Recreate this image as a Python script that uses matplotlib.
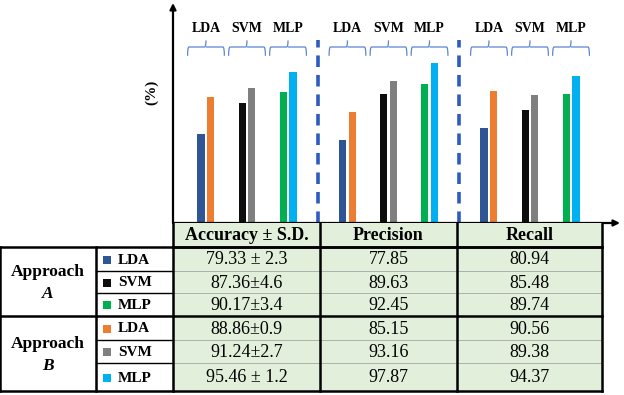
import matplotlib
matplotlib.use("Agg")
import matplotlib.pyplot as plt
from matplotlib.patches import Rectangle
from matplotlib.path import Path
from matplotlib.patches import PathPatch
import matplotlib.transforms as mtransforms

# ---------------- data ----------------
metrics = ["Accuracy \u00b1 S.D.", "Precision", "Recall"]
methods = ["LDA", "SVM", "MLP"]
approaches = ["A", "B"]
# values [method][metric]
approach_a_vals = [[79.33, 77.85, 80.94],
                   [87.36, 89.63, 85.48],
                   [90.17, 92.45, 89.74]]
approach_b_vals = [[88.86, 85.15, 90.56],
                   [91.24, 93.16, 89.38],
                   [95.46, 97.87, 94.37]]
approach_a_sd = ["2.3", "4.6", "3.4"]
approach_b_sd = ["0.9", "2.7", "1.2"]
approach_a_colors = ["#2F5597", "#0D0D0D", "#00B050"]
approach_b_colors = ["#ED7D31", "#7F7F7F", "#00B0F0"]

# ---------------- figure ----------------
W, H = 624, 395
fig = plt.figure(figsize=(W / 100, H / 100), dpi=100)
SERIF = ["Liberation Serif", "DejaVu Serif"]

def fx(px):
    return px / W

def fy(py):
    return 1 - py / H

# bar chart axes (pixel layout)
ax_l, ax_r, ax_t, ax_b = 173, 620, 3, 223
ax = fig.add_axes([fx(ax_l), fy(ax_b), fx(ax_r - ax_l), (ax_b - ax_t) / H])
grp_px = 141.5
center0 = 247
ybase = 56.1
ax.set_xlim((ax_l - center0) / grp_px, (ax_r - center0) / grp_px)
ax.set_ylim(ybase, 113.5)
for s in ax.spines.values():
    s.set_visible(False)
ax.set_xticks([])
ax.set_yticks([])
ax.patch.set_alpha(0)

ax.annotate("", xy=(0, 1), xytext=(0, 0), xycoords="axes fraction",
            arrowprops=dict(arrowstyle="-|>", lw=1.6, color="black",
                            mutation_scale=9, shrinkA=0, shrinkB=0))
ax.annotate("", xy=(1, 0), xytext=(0, 0), xycoords="axes fraction",
            arrowprops=dict(arrowstyle="-|>", lw=1.6, color="black",
                            mutation_scale=9, shrinkA=0, shrinkB=0))

m_sp = 0.29
bw = 0.052
off = 0.034
blend = mtransforms.blended_transform_factory(ax.transData, ax.transAxes)
for g in range(len(metrics)):
    for m in range(len(methods)):
        xc = g + (m - 1) * m_sp
        ax.bar(xc - off, approach_a_vals[m][g] - ybase, bw, bottom=ybase,
               color=approach_a_colors[m], edgecolor="none", zorder=2)
        ax.bar(xc + off, approach_b_vals[m][g] - ybase, bw, bottom=ybase,
               color=approach_b_colors[m], edgecolor="none", zorder=2)
        ax.text(xc, 0.885, methods[m], transform=blend, ha="center", va="center",
                fontsize=10, fontweight="bold", family=SERIF)
        # brace
        hw = 0.13
        yb, ym, yt = 0.76, 0.80, 0.83
        verts = [(xc - hw, yb), (xc - hw, ym), (xc - hw + 0.01, ym),
                 (xc - 0.01, ym), (xc, ym), (xc, yt),
                 (xc, ym), (xc + 0.01, ym),
                 (xc + hw - 0.01, ym), (xc + hw, ym), (xc + hw, yb)]
        codes = [Path.MOVETO, Path.CURVE3, Path.CURVE3,
                 Path.LINETO, Path.CURVE3, Path.CURVE3,
                 Path.MOVETO, Path.LINETO,
                 Path.LINETO, Path.CURVE3, Path.CURVE3]
        ax.add_patch(PathPatch(Path(verts, codes), transform=blend, fill=False,
                               edgecolor="#5B86D0", lw=0.9))
for d in [0.5, 1.5]:
    ax.plot([d, d], [0.0, 0.83], transform=blend, color="#2E5BBF", lw=2.6,
            ls=(0, (3.2, 2.2)), zorder=1)

fig.text(fx(152), fy(92), "(%)", rotation=90, ha="center", va="center",
         fontsize=11, fontweight="bold", family=SERIF)

# ---------------- table ----------------
col_edges = [173, 320, 457, 602]
row_edges = [247, 271, 293, 316, 340, 363, 391]
head_top, head_bot = 223, 247
left_cols = [0, 96, 173]
green = "#E2EFDA"

def rect(x0, y0, x1, y1, fc):
    fig.patches.append(Rectangle((fx(x0), fy(y1)), fx(x1 - x0), (y1 - y0) / H,
                                 transform=fig.transFigure, facecolor=fc,
                                 edgecolor="none", lw=0))

def hline(x0, x1, y, lw, c="black"):
    fig.add_artist(plt.Line2D([fx(x0), fx(x1)], [fy(y), fy(y)],
                              transform=fig.transFigure, color=c, lw=lw))

def vline(x, y0, y1, lw, c="black"):
    fig.add_artist(plt.Line2D([fx(x), fx(x)], [fy(y0), fy(y1)],
                              transform=fig.transFigure, color=c, lw=lw))

rect(col_edges[0], head_top, col_edges[-1], row_edges[-1], green)

for i, name in enumerate(metrics):
    cx = (col_edges[i] + col_edges[i + 1]) / 2
    fig.text(fx(cx), fy((head_top + head_bot) / 2 + 1), name, ha="center",
             va="center", fontsize=13, fontweight="bold", family=SERIF)

rows = []
for a, (vals, sds, cols) in enumerate([(approach_a_vals, approach_a_sd, approach_a_colors),
                                        (approach_b_vals, approach_b_sd, approach_b_colors)]):
    for m in range(len(methods)):
        rows.append((a, m, vals[m], sds[m], cols[m]))

n_rows = len(rows)
for r, (a, m, vals, sd, col) in enumerate(rows):
    y0, y1 = row_edges[r], row_edges[r + 1]
    cy = (y0 + y1) / 2 + 1
    sep = " \u00b1 " if r in (0, n_rows - 1) else "\u00b1"
    texts = [f"{vals[0]:.2f}{sep}{sd}", f"{vals[1]:.2f}", f"{vals[2]:.2f}"]
    for i, t in enumerate(texts):
        cx = (col_edges[i] + col_edges[i + 1]) / 2
        fig.text(fx(cx), fy(cy), t, ha="center", va="center", fontsize=13,
                 family=SERIF)
    rect(103, cy - 4.5, 111, cy + 3.5, col)
    fig.text(fx(118), fy(cy), methods[m], ha="left", va="center", fontsize=11,
             fontweight="bold", family=SERIF)

for a in range(2):
    y0, y1 = row_edges[3 * a], row_edges[3 * a + 3]
    cy = (y0 + y1) / 2
    fig.text(fx(48), fy(cy - 9), "Approach", ha="center", va="center",
             fontsize=12.5, fontweight="bold", family=SERIF)
    fig.text(fx(48), fy(cy + 12), approaches[a], ha="center", va="center",
             fontsize=12.5, fontweight="bold", style="italic", family=SERIF)

for r in [1, 2, 4, 5]:
    hline(col_edges[0], col_edges[-1], row_edges[r], 0.6, "#A6A6A6")
    hline(left_cols[1], left_cols[2], row_edges[r], 1.0)
hline(col_edges[0], col_edges[-1], head_bot, 1.8)
hline(left_cols[0], col_edges[-1], row_edges[0], 1.8)
hline(left_cols[0], col_edges[-1], row_edges[3], 1.8)
hline(left_cols[0], col_edges[-1], row_edges[-1], 1.8)
for x in col_edges:
    vline(x, head_top, row_edges[-1], 1.8)
for x in left_cols[:2]:
    vline(x, row_edges[0], row_edges[-1], 1.8)

fig.savefig("out.png", dpi=100)
